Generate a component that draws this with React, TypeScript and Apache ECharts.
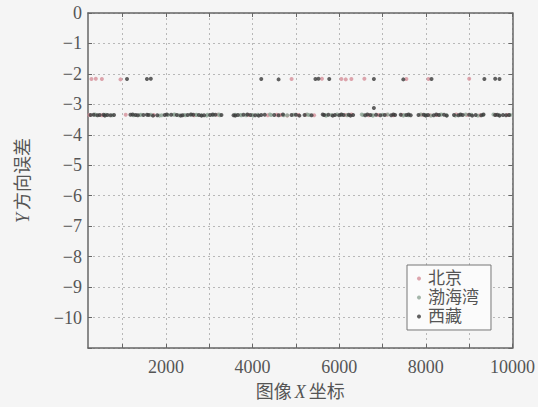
import React, { useEffect, useRef } from 'react';
import * as echarts from 'echarts';

const seriesNames = ['北京', '渤海湾', '西藏'];
const xTickValues = [1000, 2000, 3000, 4000, 5000, 6000, 7000, 8000, 9000, 10000];
const xLabelValues = [2000, 4000, 6000, 8000, 10000];
const yMin = -11;
const yMax = 0;

// 北京 (Beijing)
const beijingData: number[][] = [
  [280, -2.17], [380, -2.16], [520, -2.17], [950, -2.18], [4900, -2.17], [5600, -2.16],
  [6050, -2.17], [6150, -2.18], [6280, -2.17], [6580, -2.16], [7550, -2.17], [8060, -2.17], [9000, -2.16],
  [230, -3.35], [520, -3.36], [1070, -3.34], [1720, -3.35], [2650, -3.36], [3190, -3.34], [3900, -3.35],
  [4350, -3.36], [4560, -3.34], [4650, -3.35], [4800, -3.37], [5060, -3.35], [5230, -3.34], [5420, -3.36],
  [6150, -3.35], [6280, -3.33], [6680, -3.36], [6900, -3.35], [7100, -3.34], [7250, -3.36], [7450, -3.35],
  [7900, -3.34], [8100, -3.36], [8250, -3.35], [8700, -3.33], [8950, -3.35], [9250, -3.36], [9600, -3.34], [9880, -3.35],
];

// 渤海湾 (Bohai Bay)
const bohaiData: number[][] = [
  [380, -3.35], [610, -3.34], [1250, -3.36], [1400, -3.35], [1650, -3.34], [1900, -3.36], [2050, -3.35],
  [2180, -3.34], [2300, -3.36], [2420, -3.35], [2560, -3.34], [2700, -3.35], [2820, -3.36], [2960, -3.34],
  [3080, -3.35], [3240, -3.36], [3600, -3.34], [3720, -3.35], [3850, -3.36], [4000, -3.35], [4120, -3.34],
  [4430, -3.35], [4720, -3.36], [4950, -3.34], [5300, -3.35], [5680, -3.36], [5820, -3.35], [6050, -3.34],
  [6550, -3.35], [6770, -3.36], [7000, -3.34], [7500, -3.35], [7600, -3.36], [7980, -3.35], [8330, -3.34],
  [8480, -3.36], [8800, -3.35], [9050, -3.34], [9320, -3.35], [9700, -3.36], [9950, -3.35],
  [360, -3.33], [760, -3.36], [1420, -3.34], [1850, -3.37], [2200, -3.33], [2450, -3.36], [2700, -3.34],
  [2940, -3.37], [3220, -3.33], [3740, -3.36], [4010, -3.37], [4400, -3.33], [4800, -3.36], [5260, -3.33],
  [5700, -3.37], [5950, -3.33], [6180, -3.36], [6520, -3.33], [6780, -3.37], [7120, -3.33], [7480, -3.37],
  [7880, -3.33], [8120, -3.37], [8360, -3.33], [8680, -3.37], [8920, -3.33], [9200, -3.37], [9560, -3.33],
];

// 西藏 (Tibet)
const xizangData: number[][] = [
  [1100, -2.17], [1560, -2.17], [1650, -2.16], [4200, -2.17], [4600, -2.18], [5450, -2.17], [5520, -2.16],
  [5770, -2.17], [6800, -2.17], [7480, -2.18], [8130, -2.17], [9350, -2.17], [9600, -2.16], [9700, -2.17],
  [6800, -3.12],
  [260, -3.35], [330, -3.34], [420, -3.36], [470, -3.35], [560, -3.34], [650, -3.35], [720, -3.36], [800, -3.35],
  [1180, -3.34], [1300, -3.35], [1350, -3.36], [1480, -3.35], [1560, -3.34], [1600, -3.35], [1800, -3.36],
  [1970, -3.35], [2120, -3.34], [2250, -3.35], [2380, -3.36], [2500, -3.35], [2630, -3.34], [2760, -3.35],
  [2880, -3.36], [3020, -3.35], [3140, -3.34], [3280, -3.35], [3560, -3.36], [3660, -3.35], [3790, -3.34],
  [3950, -3.35], [4060, -3.36], [4200, -3.35], [4280, -3.34], [4500, -3.35], [4600, -3.36], [4900, -3.35],
  [5000, -3.34], [5200, -3.35], [5360, -3.36], [5650, -3.35], [5750, -3.34], [5900, -3.35], [6000, -3.36],
  [6100, -3.35], [6220, -3.34], [6320, -3.35], [6600, -3.36], [6720, -3.35], [6850, -3.34], [7050, -3.35],
  [7200, -3.36], [7290, -3.35], [7420, -3.34], [7550, -3.35], [7650, -3.36], [7830, -3.35], [7950, -3.34],
  [8050, -3.35], [8180, -3.36], [8300, -3.35], [8420, -3.34], [8650, -3.35], [8750, -3.36], [8850, -3.35],
  [9000, -3.34], [9150, -3.35], [9280, -3.36], [9600, -3.35], [9650, -3.34], [9780, -3.35], [9850, -3.36], [9920, -3.35],
  [590, -3.37], [1230, -3.33], [1700, -3.37], [2020, -3.33], [2340, -3.37], [2580, -3.33], [2820, -3.37],
  [3080, -3.33], [3600, -3.37], [3880, -3.33], [4140, -3.37], [4700, -3.33], [5080, -3.37], [5620, -3.33],
  [5850, -3.37], [6050, -3.33], [6260, -3.37], [6650, -3.33], [6950, -3.36], [7250, -3.33], [7600, -3.33],
  [8000, -3.37], [8240, -3.33], [8480, -3.37], [8800, -3.33], [9070, -3.37], [9330, -3.33], [9700, -3.37],
];

const seriesData = [beijingData, bohaiData, xizangData];
const seriesColors = ['#d6909a', '#8fa596', '#3a3a3a'];

const serif = "'Liberation Serif', 'Times New Roman', 'Noto Sans CJK SC', serif";
const textColor = '#555';
const axisColor = '#666';

export default function App() {
  const ref = useRef<HTMLDivElement>(null);
  useEffect(() => {
    document.body.style.margin = '0';
    document.body.style.background = '#f5f5f5';
    const chart = echarts.init(ref.current!, null, { renderer: 'svg' });
    const option: any = {
      animation: false,
      backgroundColor: '#f5f5f5',
      grid: { left: 88, right: 25, top: 13, bottom: 59, containLabel: false },
      legend: {
        data: seriesNames,
        orient: 'vertical',
        left: 407,
        top: 265,
        padding: [5, 12, 5, 10],
        itemGap: 2,
        itemWidth: 4,
        itemHeight: 4,
        icon: 'circle',
        backgroundColor: '#fbfbfb',
        borderColor: '#777',
        borderWidth: 1,
        borderRadius: 0,
        textStyle: { fontSize: 17, fontFamily: serif, color: textColor, padding: [0, 0, 0, 2] },
      },
      xAxis: [
        {
          type: 'value',
          min: 200,
          max: 10000,
          position: 'bottom',
          axisLine: { show: true, onZero: false, lineStyle: { color: axisColor, width: 1.5 } },
          axisTick: { show: true, inside: true, length: 4, customValues: xTickValues, lineStyle: { color: axisColor } },
          axisLabel: {
            customValues: xLabelValues,
            fontSize: 18,
            fontFamily: serif,
            color: textColor,
            margin: 10,
            formatter: (v: number) => String(v),
          },
          splitLine: { show: true, lineStyle: { type: [2, 3], color: '#b8b8b8', width: 1 } },
          name: '图像{it|X}坐标',
          nameLocation: 'middle',
          nameGap: 35,
          nameTextStyle: {
            fontSize: 18,
            fontFamily: serif,
            color: textColor,
            rich: { it: { fontSize: 18, fontStyle: 'italic', fontFamily: serif, color: textColor, padding: [0, 3, 0, 3] } },
          },
        },
        {
          type: 'value',
          min: 200,
          max: 10000,
          position: 'top',
          axisLine: { show: true, onZero: false, lineStyle: { color: axisColor, width: 1.5 } },
          axisTick: { show: true, inside: true, length: 4, customValues: xTickValues, lineStyle: { color: axisColor } },
          axisLabel: { show: false },
          splitLine: { show: false },
        },
      ],
      yAxis: [
        {
          type: 'value',
          min: yMin,
          max: yMax,
          interval: 1,
          position: 'left',
          axisLine: { show: true, onZero: false, lineStyle: { color: axisColor, width: 1.5 } },
          axisTick: { show: true, inside: true, length: 4, lineStyle: { color: axisColor } },
          axisLabel: {
            fontSize: 18,
            fontFamily: serif,
            color: textColor,
            margin: 6,
            formatter: (v: number) => (v === yMin ? '' : v < 0 ? '\u2212' + Math.abs(v) : String(v)),
          },
          splitLine: { show: true, lineStyle: { type: [2, 3], color: '#b8b8b8', width: 1 } },
          name: '{it|Y}方向误差',
          nameLocation: 'middle',
          nameGap: 56,
          nameTextStyle: {
            fontSize: 18,
            fontFamily: serif,
            color: textColor,
            rich: { it: { fontSize: 18, fontStyle: 'italic', fontFamily: serif, color: textColor, padding: [0, 3, 0, 0] } },
          },
        },
        {
          type: 'value',
          min: yMin,
          max: yMax,
          interval: 1,
          position: 'right',
          axisLine: { show: true, onZero: false, lineStyle: { color: axisColor, width: 1.5 } },
          axisTick: { show: true, inside: true, length: 4, lineStyle: { color: axisColor } },
          axisLabel: { show: false },
          splitLine: { show: false },
        },
      ],
      series: seriesNames.map((name, i) => ({
        name,
        type: 'scatter',
        xAxisIndex: 0,
        yAxisIndex: 0,
        data: seriesData[i],
        symbol: 'circle',
        symbolSize: 4,
        itemStyle: { color: seriesColors[i] },
      })),
    };
    chart.setOption(option);
    return () => chart.dispose();
  }, []);
  return <div ref={ref} style={{ width: 538, height: 407 }} />;
}
